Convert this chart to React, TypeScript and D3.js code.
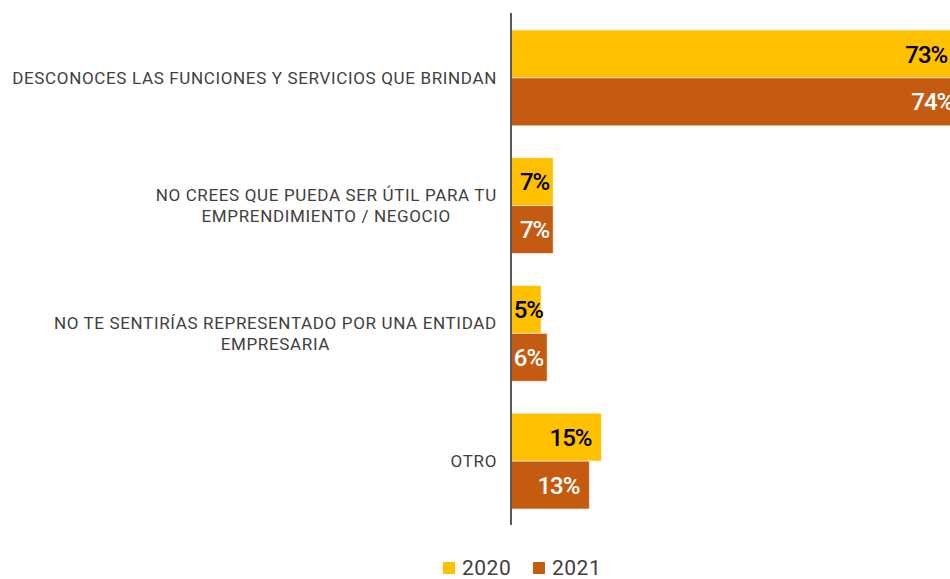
import React from "react";
import * as d3 from "d3";

// Chart values
const categories = [
  ["DESCONOCES LAS FUNCIONES Y SERVICIOS QUE BRINDAN"],
  ["NO CREES QUE PUEDA SER ÚTIL PARA TU", "EMPRENDIMIENTO / NEGOCIO"],
  ["NO TE SENTIRÍAS REPRESENTADO POR UNA ENTIDAD", "EMPRESARIA"],
  ["OTRO"],
];
const years = ["2020", "2021"];
const values2020 = [73, 7, 5, 15];
const values2021 = [74, 7, 6, 13];

const colors = { "2020": "#FFC000", "2021": "#C55A11" };
const labelColors = { "2020": "#000000", "2021": "#FFFFFF" };

const width = 950;
const height = 579;
const axisX = 511;
const catFont = "17px Roboto";
const catSpacing = 0.65;

// measure a label line so the lines of a block can be centred on each other
const measure = (() => {
  let ctx = null;
  return (s) => {
    if (!ctx) ctx = document.createElement("canvas").getContext("2d");
    ctx.font = catFont;
    return ctx.measureText(s).width + s.length * catSpacing;
  };
})();

const App = () => {
  const rows = categories.map((lines, i) => ({
    key: lines.join(" "),
    lines,
    "2020": values2020[i],
    "2021": values2021[i],
  }));

  const y = d3
    .scaleBand()
    .domain(rows.map((d) => d.key))
    .range([14, 525])
    .paddingInner(0.25)
    .paddingOuter(0.125);

  const ySub = d3.scaleBand().domain(years).range([0, y.bandwidth()]).padding(0);

  // one percent point is about 6 px
  const x = d3.scaleLinear().domain([0, 100]).range([axisX, axisX + 603]);

  return (
    <svg
      width={width}
      height={height}
      style={{ position: "absolute", left: 0, top: 0, display: "block", overflow: "hidden" }}
    >
      <rect width={width} height={height} fill="#fff" />

      {/* Bars */}
      {rows.map((row) =>
        years.map((yr) => {
          const v = row[yr];
          const by = y(row.key) + ySub(yr);
          const bh = ySub.bandwidth();
          const end = x(v);
          const pad = v > 10 && v < 50 ? 10 : 4;
          const textEnd = Math.max(end - pad, x(0) + 32);
          return (
            <g key={`${row.key}-${yr}`}>
              <rect
                x={x(0)}
                y={by}
                width={end - x(0)}
                height={bh}
                fill={colors[yr]}
                stroke="#fff"
                strokeOpacity={0.6}
                strokeWidth={1}
              />
              <text
                x={textEnd}
                y={by + bh / 2}
                dy="0.36em"
                textAnchor="end"
                fontFamily="Roboto, sans-serif"
                fontWeight={500}
                fontSize={24}
                letterSpacing={-1}
                fill={labelColors[yr]}
              >
                {v}%
              </text>
            </g>
          );
        })
      )}

      {/* Category labels */}
      {rows.map((row) => {
        const cy = y(row.key) + y.bandwidth() / 2;
        const lineH = 21;
        const n = row.lines.length;
        const blockW = d3.max(row.lines, (l) => measure(l));
        const cx = 497 - blockW / 2;
        return (
          <g key={`lab-${row.key}`}>
            {row.lines.map((l, j) => (
              <text
                key={j}
                x={cx}
                y={cy + (j - (n - 1) / 2) * lineH}
                dy="0.36em"
                textAnchor="middle"
                fontFamily="Roboto, sans-serif"
                fontSize={17}
                letterSpacing={catSpacing}
                fill="#404040"
              >
                {l}
              </text>
            ))}
          </g>
        );
      })}

      {/* Axis line */}
      <line x1={axisX} x2={axisX} y1={13} y2={525} stroke="#595959" strokeWidth={2} />

      {/* Legend */}
      {years.map((yr, i) => {
        const lx = 443 + i * 90;
        return (
          <g key={`leg-${yr}`} transform={`translate(${lx},562)`}>
            <rect width={12} height={12} fill={colors[yr]} />
            <text
              x={19}
              y={6}
              dy="0.35em"
              fontFamily="Roboto, sans-serif"
              fontSize={21}
              letterSpacing={0.5}
              fill="#404040"
            >
              {yr}
            </text>
          </g>
        );
      })}
    </svg>
  );
};

export default App;
